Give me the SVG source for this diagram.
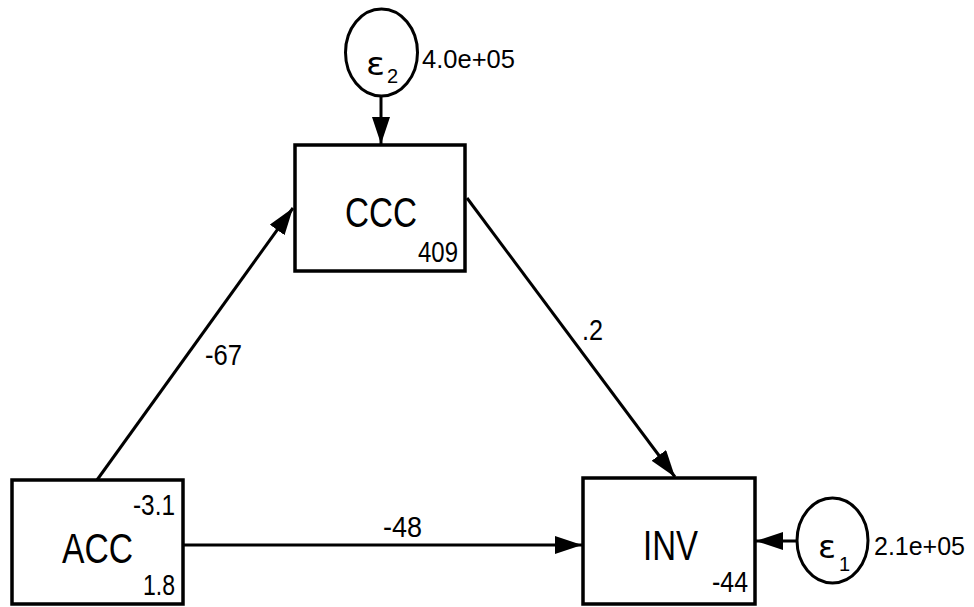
<svg xmlns="http://www.w3.org/2000/svg" width="974" height="607" viewBox="0 0 974 607">
<style>
.box{fill:#fff;stroke:#000;stroke-width:3.5}
.err{fill:#fff;stroke:#000;stroke-width:3}
.ln{stroke:#000;stroke-width:3;fill:none}
.big{font-family:"Liberation Sans",Arial,sans-serif;font-size:42px;fill:#000}
.sm{font-family:"Liberation Sans",Arial,sans-serif;font-size:29px;fill:#000}
.var{font-family:"Liberation Sans",Arial,sans-serif;font-size:26px;fill:#000}
.eps{font-family:"DejaVu Sans","Liberation Sans",sans-serif;font-size:32px;fill:#000}
.sub{font-family:"Liberation Sans",Arial,sans-serif;font-size:20px;fill:#000}
</style>
<defs>
<marker id="ah" markerUnits="userSpaceOnUse" markerWidth="30" markerHeight="20" refX="27" refY="9" orient="auto">
<path d="M0,0 L27,9 L0,18 z" fill="#000"/>
</marker>
</defs>
<rect width="974" height="607" fill="#fff"/>
<g id="connectors">
<line class="ln" x1="97" y1="480" x2="293" y2="208" marker-end="url(#ah)"/>
<line class="ln" x1="467" y1="198" x2="675" y2="477" marker-end="url(#ah)"/>
<line class="ln" x1="183" y1="545" x2="582" y2="545" marker-end="url(#ah)"/>
<line class="ln" x1="381" y1="97" x2="381" y2="144" marker-end="url(#ah)"/>
<line class="ln" x1="797" y1="541" x2="756" y2="541" marker-end="url(#ah)"/>
<text class="sm" x="205" y="365" textLength="37" lengthAdjust="spacingAndGlyphs">-67</text>
<text class="sm" x="582" y="340" textLength="21" lengthAdjust="spacingAndGlyphs">.2</text>
<text class="sm" x="383" y="537" textLength="39" lengthAdjust="spacingAndGlyphs">-48</text>
</g>
<g id="CCC">
<rect class="box" x="295" y="145" width="170" height="126"/>
<text class="big" x="345" y="227" textLength="72" lengthAdjust="spacingAndGlyphs">CCC</text>
<text class="sm" x="418" y="262" textLength="40" lengthAdjust="spacingAndGlyphs">409</text>
</g>
<g id="ACC">
<rect class="box" x="12" y="480" width="171" height="124"/>
<text class="big" x="62" y="563" textLength="71" lengthAdjust="spacingAndGlyphs">ACC</text>
<text class="sm" x="133" y="515" textLength="42" lengthAdjust="spacingAndGlyphs">-3.1</text>
<text class="sm" x="143" y="595" textLength="32" lengthAdjust="spacingAndGlyphs">1.8</text>
</g>
<g id="INV">
<rect class="box" x="583" y="478" width="172" height="126"/>
<text class="big" x="643" y="560" textLength="55" lengthAdjust="spacingAndGlyphs">INV</text>
<text class="sm" x="712" y="592" textLength="36" lengthAdjust="spacingAndGlyphs">-44</text>
</g>
<g id="e2">
<ellipse class="err" cx="381.5" cy="52.5" rx="36" ry="43.5"/>
<text class="eps" x="366" y="75" textLength="19" lengthAdjust="spacingAndGlyphs">ε</text>
<text class="sub" x="387" y="83">2</text>
<text class="var" x="422" y="68" textLength="93" lengthAdjust="spacingAndGlyphs">4.0e+05</text>
</g>
<g id="e1">
<ellipse class="err" cx="832.5" cy="540.5" rx="35.5" ry="42.5"/>
<text class="eps" x="818" y="558" textLength="18" lengthAdjust="spacingAndGlyphs">ε</text>
<text class="sub" x="839" y="571">1</text>
<text class="var" x="874" y="555" textLength="91" lengthAdjust="spacingAndGlyphs">2.1e+05</text>
</g>
</svg>
